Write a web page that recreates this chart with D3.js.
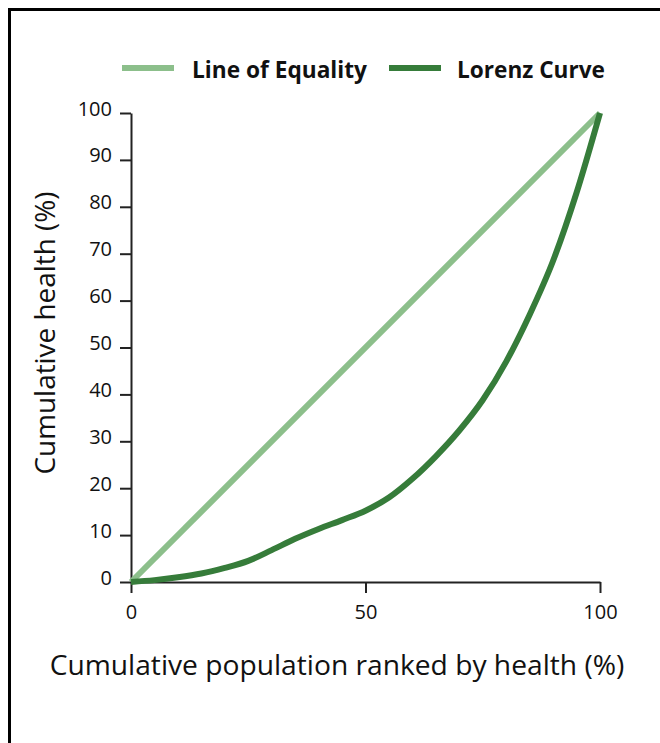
<!DOCTYPE html>
<html>
<head>
<meta charset="utf-8">
<script src="https://cdn.jsdelivr.net/npm/d3@7"></script>
<style>
  body { margin: 0; background: #fff; }
  svg { display: block; font-family: "Open Sans", sans-serif; }
</style>
</head>
<body>
<div id="chart"></div>
<script>
// data
const popPct = [0, 5, 10, 15, 20, 25, 30, 35, 40, 45, 50, 55, 60, 65, 70, 75, 80, 85, 90, 95, 100];
const lorenz = [0, 0.4, 1.0, 1.8, 3.0, 4.5, 6.8, 9.2, 11.3, 13.2, 15.2, 18.0, 22.0, 26.8, 32.3, 38.8, 47.0, 57.0, 68.5, 83.0, 100];
const equality = [0, 100];
const equalityX = [0, 100];
const xTicks = [0, 50, 100];
const yTicks = [0, 10, 20, 30, 40, 50, 60, 70, 80, 90, 100];
const seriesNames = ["Line of Equality", "Lorenz Curve"];

const W = 660, H = 743;
const light = "#8cbf8b", dark = "#367c3a";

const svg = d3.select("#chart").append("svg")
  .attr("width", W).attr("height", H);

// frame (runs off the right and bottom edge)
svg.append("rect")
  .attr("x", 9.5).attr("y", 9.5)
  .attr("width", 700).attr("height", 800)
  .attr("fill", "none").attr("stroke", "#000").attr("stroke-width", 3);

const x = d3.scaleLinear().domain([0, 100]).range([131, 600]);
const y = d3.scaleLinear().domain([0, 100]).range([582, 113]);

// axes
const xAxis = d3.axisBottom(x).tickValues(xTicks).tickSize(11).tickPadding(12).tickSizeOuter(0);
const yAxis = d3.axisLeft(y).tickValues(yTicks).tickSize(11).tickPadding(8).tickSizeOuter(0);

const gx = svg.append("g").attr("transform", "translate(0,582)").call(xAxis);
const gy = svg.append("g").attr("transform", "translate(131,0)").call(yAxis);
[gx, gy].forEach(g => {
  g.select(".domain").attr("stroke", "#222").attr("stroke-width", 2);
  g.selectAll(".tick line").attr("stroke", "#222").attr("stroke-width", 2);
  g.selectAll(".tick text").attr("fill", "#111").style("font-size", "20px")
    .style("font-family", "Open Sans, sans-serif");
});
gy.selectAll(".tick text").attr("dy", "0.1em");

// lines
const line = d3.line().x(d => x(d[0])).y(d => y(d[1]));
svg.append("path")
  .datum(equalityX.map((v, i) => [v, equality[i]]))
  .attr("d", line)
  .attr("fill", "none").attr("stroke", light).attr("stroke-width", 6);

svg.append("path")
  .datum(popPct.map((v, i) => [v, lorenz[i]]))
  .attr("d", line.curve(d3.curveMonotoneX))
  .attr("fill", "none").attr("stroke", dark).attr("stroke-width", 6);

// scale a text's font so it spans the wanted width
function fitText(sel, width, size) {
  sel.style("font-size", size + "px");
  const w = sel.node().getComputedTextLength();
  sel.style("font-size", (size * width / w).toFixed(2) + "px");
}

// axis titles
const xt = svg.append("text")
  .attr("x", 337).attr("y", 675)
  .attr("text-anchor", "middle").attr("fill", "#111")
  .text("Cumulative population ranked by health (%)");
fitText(xt, 575, 26);

const yt = svg.append("text")
  .attr("transform", "translate(55,333) rotate(-90)")
  .attr("text-anchor", "middle").attr("fill", "#111")
  .text("Cumulative health (%)");
fitText(yt, 283, 26);

// legend
const legend = [
  { name: seriesNames[0], color: light, x0: 122, tx: 192, tw: 175 },
  { name: seriesNames[1], color: dark, x0: 389, tx: 457, tw: 148 }
];
const lg = svg.append("g");
legend.forEach(d => {
  lg.append("line")
    .attr("x1", d.x0).attr("x2", d.x0 + 52)
    .attr("y1", 68).attr("y2", 68)
    .attr("stroke", d.color).attr("stroke-width", 6);
  const t = lg.append("text")
    .attr("x", d.tx).attr("y", 78)
    .style("font-weight", "bold").attr("fill", "#111")
    .text(d.name);
  fitText(t, d.tw, 22);
});
</script>
</body>
</html>
